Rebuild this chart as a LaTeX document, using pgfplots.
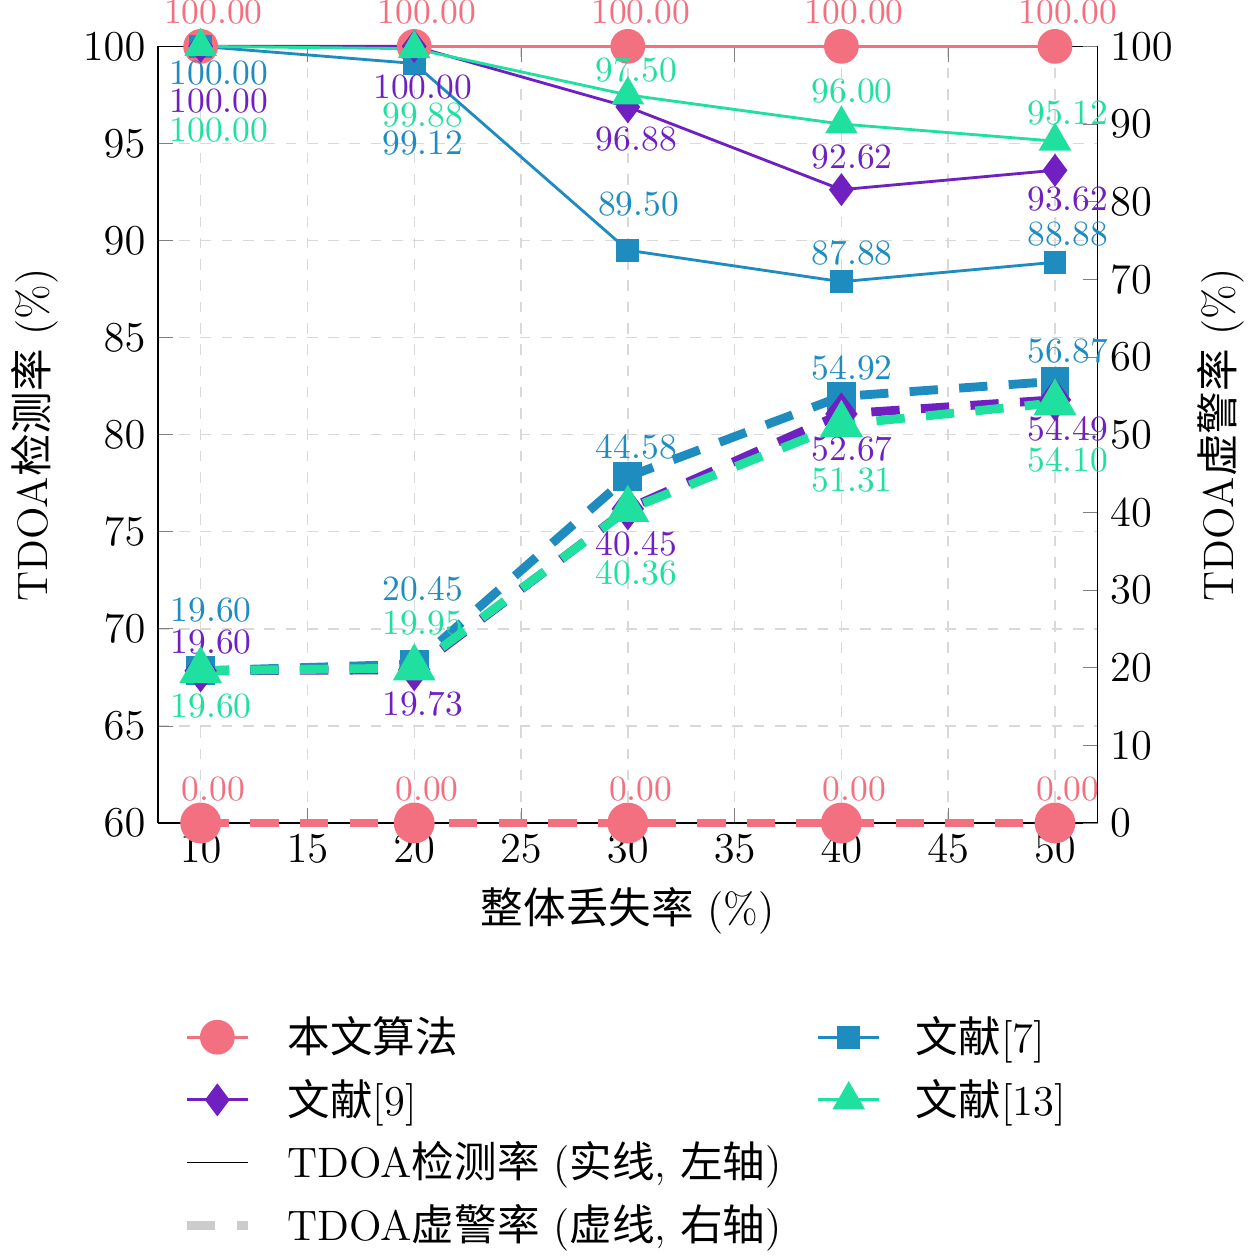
\documentclass[border=0pt]{standalone}
\usepackage{pgfplots}
\pgfplotsset{compat=1.18}
\usepackage{fontspec}
\newfontfamily\cjk{Noto Sans CJK SC}
\definecolor{cA}{HTML}{F2707F}
\definecolor{cB}{HTML}{1F8CC0}
\definecolor{cC}{HTML}{7020C0}
\definecolor{cD}{HTML}{20E0A0}
\begin{document}
\begin{tikzpicture}
\pgfplotsset{every axis/.append style={scale only axis, width=265pt, height=219pt, xmin=8, xmax=52, font=\large, clip=false}}
\begin{axis}[ymin=60, ymax=100, xtick={10,15,...,50}, ytick={60,65,...,100},
  grid=major, grid style={dashed, gray!30}, axis y line*=left,
  xlabel={{\cjk 整体丢失率} (\%)}, ylabel={TDOA{\cjk 检测率} (\%)}]
\addplot[cA, thick, mark=*, mark size=4.5pt] coordinates {(10,100)(20,100)(30,100)(40,100)(50,100)};
\addplot[cB, thick, mark=square*, mark size=2.8pt] coordinates {(10,100)(20,99.12)(30,89.50)(40,87.88)(50,88.88)};
\addplot[cC, thick, mark=diamond*, mark size=4pt] coordinates {(10,100)(20,100)(30,96.88)(40,92.62)(50,93.62)};
\addplot[cD, thick, mark=triangle*, mark size=4.5pt] coordinates {(10,100)(20,99.88)(30,97.50)(40,96.00)(50,95.12)};
\end{axis}
\begin{axis}[ymin=0, ymax=100, ytick={0,10,...,100}, axis y line*=right, axis x line=none,
  ylabel={TDOA{\cjk 虚警率} (\%)},
  legend style={at={(0.5,-0.23)}, anchor=north, draw=none, font=\large, column sep=8pt, row sep=2pt},
  legend columns=2, legend cell align=left]
\addlegendimage{cA, thick, mark=*, mark size=4.5pt}\addlegendentry{\cjk 本文算法}
\addlegendimage{cB, thick, mark=square*, mark size=2.8pt}\addlegendentry{{\cjk 文献}[7]}
\addlegendimage{cC, thick, mark=diamond*, mark size=4pt}\addlegendentry{{\cjk 文献}[9]}
\addlegendimage{cD, thick, mark=triangle*, mark size=4.5pt}\addlegendentry{{\cjk 文献}[13]}
\addlegendimage{black}\addlegendentry{TDOA{\cjk 检测率} ({\cjk 实线}, {\cjk 左轴})}
\addlegendimage{empty legend}\addlegendentry{}
\addlegendimage{gray!40, line width=2.5pt, dash pattern=on 8pt off 6pt}\addlegendentry{TDOA{\cjk 虚警率} ({\cjk 虚线}, {\cjk 右轴})}
\addlegendimage{empty legend}\addlegendentry{}
\addplot[cA, line width=2.5pt, dash pattern=on 8pt off 6pt, mark=*, mark size=4.5pt, mark options={solid}, forget plot] coordinates {(10,0)(20,0)(30,0)(40,0)(50,0)};
\addplot[cB, line width=2.5pt, dash pattern=on 8pt off 6pt, mark=square*, mark size=2.8pt, mark options={solid}, forget plot] coordinates {(10,19.60)(20,20.45)(30,44.58)(40,54.92)(50,56.87)};
\addplot[cC, line width=2.5pt, dash pattern=on 8pt off 6pt, mark=diamond*, mark size=4pt, mark options={solid}, forget plot] coordinates {(10,19.60)(20,19.73)(30,40.45)(40,52.67)(50,54.49)};
\addplot[cD, line width=2.5pt, dash pattern=on 8pt off 6pt, mark=triangle*, mark size=4.5pt, mark options={solid}, forget plot] coordinates {(10,19.60)(20,19.95)(30,40.36)(40,51.31)(50,54.10)};
\pgfplotsinvokeforeach{10.6,20.6,30.6,40.6,50.6}{
  \node[text=cA, font=\normalsize, inner sep=0pt] at (axis cs:#1,104.4) {100.00};
  \node[text=cA, font=\normalsize, inner sep=0pt] at (axis cs:#1,4.4) {0.00};
}
\begin{scope}[every node/.style={font=\normalsize, inner sep=0pt}]
\node[text=cB] at (axis cs:10.85,96.6) {100.00};
\node[text=cC] at (axis cs:10.85,93) {100.00};
\node[text=cD] at (axis cs:10.85,89.2) {100.00};
\node[text=cC] at (axis cs:20.4,94.8) {100.00};
\node[text=cD] at (axis cs:20.4,91.2) {99.88};
\node[text=cB] at (axis cs:20.4,87.5) {99.12};
\node[text=cD] at (axis cs:30.4,97) {97.50};
\node[text=cC] at (axis cs:30.4,88.1) {96.88};
\node[text=cB] at (axis cs:30.5,79.7) {89.50};
\node[text=cD] at (axis cs:40.5,94.2) {96.00};
\node[text=cC] at (axis cs:40.5,85.8) {92.62};
\node[text=cB] at (axis cs:40.5,73.4) {87.88};
\node[text=cD] at (axis cs:50.6,91.4) {95.12};
\node[text=cC] at (axis cs:50.6,80.4) {93.62};
\node[text=cB] at (axis cs:50.6,75.8) {88.88};
\node[text=cB] at (axis cs:10.5,27.4) {19.60};
\node[text=cC] at (axis cs:10.5,23.3) {19.60};
\node[text=cD] at (axis cs:10.5,15.1) {19.60};
\node[text=cB] at (axis cs:20.4,30.1) {20.45};
\node[text=cD] at (axis cs:20.4,25.8) {19.95};
\node[text=cC] at (axis cs:20.4,15.3) {19.73};
\node[text=cB] at (axis cs:30.4,48.4) {44.58};
\node[text=cC] at (axis cs:30.4,36) {40.45};
\node[text=cD] at (axis cs:30.4,32.2) {40.36};
\node[text=cB] at (axis cs:40.5,58.6) {54.92};
\node[text=cC] at (axis cs:40.5,48.2) {52.67};
\node[text=cD] at (axis cs:40.5,44.2) {51.31};
\node[text=cB] at (axis cs:50.6,60.8) {56.87};
\node[text=cC] at (axis cs:50.6,50.7) {54.49};
\node[text=cD] at (axis cs:50.6,46.8) {54.10};
\end{scope}
\end{axis}
\end{tikzpicture}
\end{document}
